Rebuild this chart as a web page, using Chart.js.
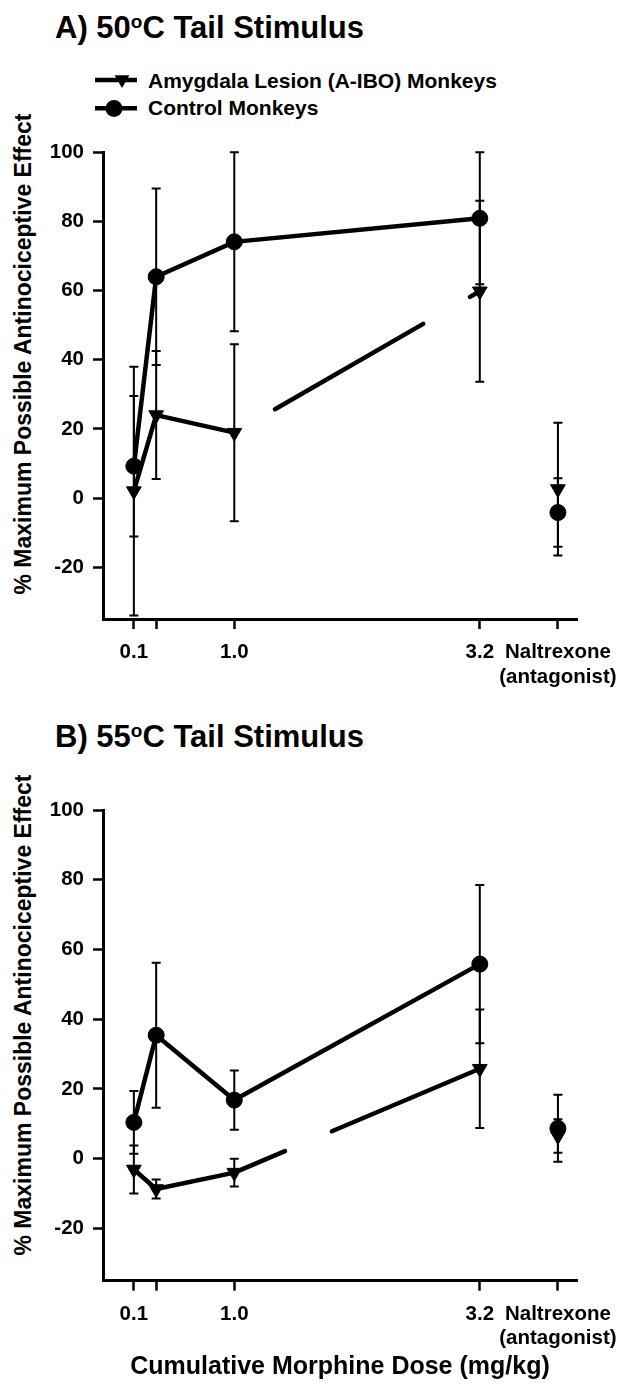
<!DOCTYPE html>
<html>
<head>
<meta charset="utf-8">
<script src="https://cdn.jsdelivr.net/npm/chart.js@4.4.1/dist/chart.umd.min.js"></script>
<style>
  body { margin: 0; background: #fff; }
  #page { position: relative; width: 622px; height: 1395px; background: #fff; overflow: hidden;
          font-family: "Liberation Sans", Arial, Helvetica, sans-serif; font-weight: bold; color: #000; }
  .title { position: absolute; left: 55px; font-size: 31px; line-height: 31px; white-space: nowrap; }
  .title sup { font-size: 19px; line-height: 0; vertical-align: 10px; }
  .legend-text { position: absolute; left: 148px; font-size: 21px; line-height: 21px; white-space: nowrap; }
  .ytitle { position: absolute; width: 600px; height: 28px; line-height: 28px; font-size: 23px;
            text-align: center; white-space: nowrap; transform: rotate(-90deg); }
  canvas { position: absolute; left: 0; }
</style>
</head>
<body>
<div id="page">
  <div class="title" style="top:12px">A) 50<sup>o</sup>C Tail Stimulus</div>
  <svg style="position:absolute;left:0;top:0" width="160" height="130">
    <line x1="95" y1="80" x2="137" y2="80" stroke="#000" stroke-width="4.5"/>
    <polygon points="114.6,75.3 129.4,75.3 122,88" fill="#000"/>
    <line x1="95" y1="108.3" x2="137" y2="108.3" stroke="#000" stroke-width="4.5"/>
    <circle cx="114" cy="108.5" r="8.5" fill="#000"/>
  </svg>
  <div class="legend-text" style="top:69.5px">Amygdala Lesion (A-IBO) Monkeys</div>
  <div class="legend-text" style="top:97.3px">Control Monkeys</div>
  <div class="ytitle" style="left:-277px;top:340px">% Maximum Possible Antinociceptive Effect</div>
  <canvas id="chartA" width="622" height="570" style="top:130px"></canvas>

  <div class="title" style="top:721px">B) 55<sup>o</sup>C Tail Stimulus</div>
  <div class="ytitle" style="left:-277px;top:1001px">% Maximum Possible Antinociceptive Effect</div>
  <canvas id="chartB" width="622" height="605" style="top:790px"></canvas>
</div>
<script>
// cumulative morphine doses (mg/kg) and where the naltrexone column sits on that axis
const doses = [0.1, 0.3, 1.0, 3.2];
const naltrexonePos = 3.9;
const xTickValues = [0.1, 0.3, 1.0, 3.2, 3.9];
const xTickLabels = ['0.1', '', '1.0', '3.2', ['Naltrexone', '(antagonist)']];
const yTickValues = [-20, 0, 20, 40, 60, 80, 100];

// A) 50 C tail stimulus, mean and SEM
const lesion50 = [2.0, 24.0, 18.9, 59.8];
const lesion50Sem = [36.0, 18.5, 25.6, 26.2];
const control50 = [9.2, 64.0, 74.1, 80.9];
const control50Sem = [20.3, 25.5, 25.9, 19.1];
const lesion50Nal = [2.6];
const lesion50NalSem = [19.2];
const control50Nal = [-4.2];
const control50NalSem = [9.9];

// B) 55 C tail stimulus, mean and SEM
const lesion55 = [-3.1, -8.7, -4.0, 25.8];
const lesion55Sem = [6.9, 2.7, 4.0, 17.0];
const control55 = [10.4, 35.4, 16.8, 55.8];
const control55Sem = [9.0, 20.8, 8.5, 22.7];
const lesion55Nal = [6.5];
const lesion55NalSem = [4.8];
const control55Nal = [8.7];
const control55NalSem = [9.6];

Chart.defaults.font.family = '"Liberation Sans", Arial, Helvetica, sans-serif';
Chart.defaults.font.weight = 'bold';
Chart.defaults.color = '#000';

// vertical SEM bars with small caps, drawn under the lines and symbols
const errorBars = {
    id: 'errorBars',
    beforeDatasetsDraw(chart) {
        const ctx = chart.ctx;
        const x = chart.scales.x;
        const y = chart.scales.y;
        ctx.save();
        ctx.strokeStyle = '#000';
        ctx.lineWidth = 2;
        chart.data.datasets.forEach(ds => {
            if (!ds.errors) return;
            ds.data.forEach((p, i) => {
                const px = x.getPixelForValue(p.x);
                const hi = y.getPixelForValue(p.y + ds.errors[i]);
                const lo = y.getPixelForValue(p.y - ds.errors[i]);
                ctx.beginPath();
                ctx.moveTo(px, hi); ctx.lineTo(px, lo);
                ctx.moveTo(px - 4.5, hi); ctx.lineTo(px + 4.5, hi);
                ctx.moveTo(px - 4.5, lo); ctx.lineTo(px + 4.5, lo);
                ctx.stroke();
            });
        });
        ctx.restore();
    }
};

function points(xs, ys) {
    return ys.map((v, i) => ({x: xs[i], y: v}));
}

function lesionSet(means, sems, showLine, gapDash) {
    return {
        label: 'Amygdala Lesion (A-IBO) Monkeys',
        data: points(showLine ? doses : [naltrexonePos], means),
        errors: sems,
        showLine: showLine,
        borderColor: '#000',
        backgroundColor: '#000',
        borderWidth: 4.5,
        borderCapStyle: 'round',
        pointStyle: 'triangle',
        pointRotation: 180,
        pointRadius: 8.5,
        pointBorderWidth: 1,
        segment: {
            // the 1.0 -> 3.2 stretch of this line is broken in the original figure
            borderDash: c => (gapDash && c.p0DataIndex === 2) ? gapDash : undefined
        }
    };
}

function controlSet(means, sems, showLine) {
    return {
        label: 'Control Monkeys',
        data: points(showLine ? doses : [naltrexonePos], means),
        errors: sems,
        showLine: showLine,
        borderColor: '#000',
        backgroundColor: '#000',
        borderWidth: 4.5,
        borderCapStyle: 'round',
        pointStyle: 'circle',
        pointRadius: 8,
        pointBorderWidth: 1
    };
}

function makeChart(id, datasets, padTop, xHeight, xTitle) {
    const tickFont = {size: 20.5, weight: 'bold'};
    return new Chart(document.getElementById(id), {
        type: 'scatter',
        data: {datasets: datasets},
        options: {
            responsive: false,
            animation: false,
            events: [],
            layout: {padding: {top: padTop, left: 0, right: 45, bottom: 0}},
            plugins: {legend: {display: false}, tooltip: {enabled: false}},
            scales: {
                x: {
                    type: 'linear',
                    min: -0.1765,
                    max: 4.071,
                    afterBuildTicks: s => { s.ticks = xTickValues.map(v => ({value: v})); },
                    afterFit: s => { s.height = xHeight; s.paddingLeft = 0; s.paddingRight = 0; },
                    ticks: {
                        callback: (v, i) => xTickLabels[i],
                        autoSkip: false,
                        maxRotation: 0,
                        padding: 11,
                        font: tickFont,
                        color: '#000'
                    },
                    grid: {drawOnChartArea: false, tickLength: 10, tickWidth: 2.5, tickColor: '#000'},
                    border: {width: 3, color: '#000'},
                    title: {
                        display: !!xTitle,
                        text: xTitle || '',
                        font: {size: 25, weight: 'bold'},
                        color: '#000',
                        padding: {top: 0, bottom: 13}
                    }
                },
                y: {
                    min: -35,
                    max: 100,
                    afterBuildTicks: s => { s.ticks = yTickValues.map(v => ({value: v})); },
                    afterFit: s => { s.width = 103; s.paddingTop = 0; s.paddingBottom = 0; },
                    ticks: {padding: 9, font: tickFont, color: '#000'},
                    grid: {drawOnChartArea: false, tickLength: 10, tickWidth: 2.5, tickColor: '#000'},
                    border: {width: 3, color: '#000'}
                }
            }
        },
        plugins: [errorBars]
    });
}

makeChart('chartA', [
    controlSet(control50, control50Sem, true),
    lesionSet(lesion50, lesion50Sem, true, [0, 47, 171, 54, 300, 0]),
    controlSet(control50Nal, control50NalSem, false),
    lesionSet(lesion50Nal, lesion50NalSem, false)
], 22.3, 81);

makeChart('chartB', [
    controlSet(control55, control55Sem, true),
    lesionSet(lesion55, lesion55Sem, true, [55, 51, 400, 0]),
    controlSet(control55Nal, control55NalSem, false),
    lesionSet(lesion55Nal, lesion55NalSem, false)
], 20, 114.3, 'Cumulative Morphine Dose (mg/kg)');
</script>
</body>
</html>
